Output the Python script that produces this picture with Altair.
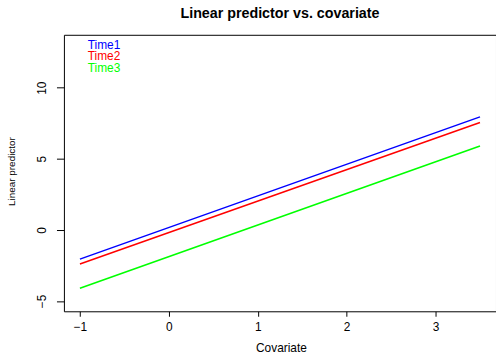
import altair as alt
import pandas as pd

covariate = [-1.0, 3.5]
time1 = [-2.05, 7.95]
time2 = [-2.4, 7.55]
time3 = [-4.1, 5.9]
series_names = ["Time1", "Time2", "Time3"]
series_colors = ["#0000FF", "#FF0000", "#00FF00"]
x_ticks = [-1, 0, 1, 2, 3]
y_ticks = [-5, 0, 5, 10]

rows = []
for name, vals in zip(series_names, [time1, time2, time3]):
    for xv, yv in zip(covariate, vals):
        rows.append({"Covariate": xv, "Linear predictor": yv, "series": name})
df = pd.DataFrame(rows)
legend_df = pd.DataFrame({"series": series_names})

FONT = "Liberation Sans"
color_scale = alt.Scale(domain=series_names, range=series_colors)

common_axis = dict(grid=False, domain=False, tickColor="black", tickWidth=1,
                   labelColor="black", labelFontSize=12, labelFont=FONT,
                   titleColor="black", labelFlush=False)

lines = alt.Chart(df).mark_line(strokeWidth=1.5, clip=True).encode(
    x=alt.X("Covariate:Q",
            scale=alt.Scale(domain=[-1.18, 3.68], nice=False, zero=False),
            axis=alt.Axis(values=x_ticks, tickSize=5, labelPadding=5,
                          title="Covariate", titleFontSize=12, titleFont=FONT,
                          titleFontWeight="normal", titleBaseline="middle",
                          titleX=219, titleY=37, **common_axis)),
    y=alt.Y("Linear predictor:Q",
            scale=alt.Scale(domain=[-5.72, 13.72], nice=False, zero=False),
            axis=alt.Axis(values=y_ticks, tickSize=7.5, labelPadding=8,
                          labelAngle=270, labelAlign="center", labelBaseline="bottom",
                          title="Linear predictor", titleFontSize=10, titleFont=FONT,
                          titleFontWeight="normal", titleAngle=270,
                          titleAlign="center", titleBaseline="middle",
                          titleX=-53, titleY=137.5, **common_axis)),
    color=alt.Color("series:N", scale=color_scale, legend=None),
)

legend = alt.Chart(legend_df).mark_text(
    align="left", baseline="middle", fontSize=12, font=FONT
).encode(
    x=alt.value(24),
    y=alt.Y("series:N", scale=alt.Scale(type="point", domain=series_names,
                                        range=[10.5, 33.3], padding=0), axis=None),
    text="series:N",
    color=alt.Color("series:N", scale=color_scale, legend=None),
)

chart = alt.layer(lines, legend).resolve_scale(y="independent").properties(
    width=436, height=279,
    title=alt.TitleParams("Linear predictor vs. covariate", fontSize=14.4,
                          font=FONT, fontWeight="bold", anchor="middle",
                          baseline="alphabetic", offset=3, color="black"),
    autosize=alt.AutoSizeParams(type="none"),
    padding={"left": 64.5, "top": 33.5, "right": 0, "bottom": 42.5},
).configure(
    background="white",
    view=alt.ViewConfig(stroke="#000000", strokeWidth=1, strokeOpacity=1),
)

chart.save("out.html", embed_options={"renderer": "svg", "actions": False})
